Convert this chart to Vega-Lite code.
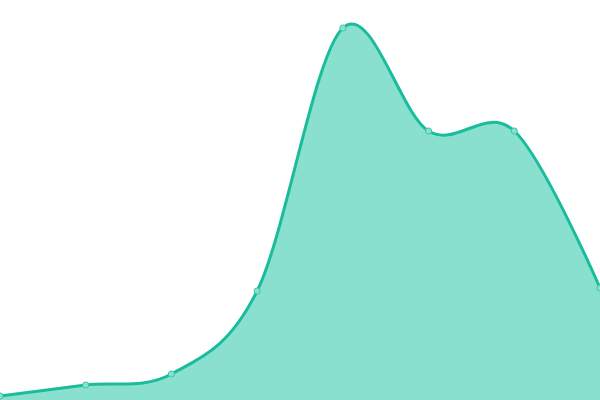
{
  "$schema": "https://vega.github.io/schema/vega-lite/v6.json",
  "width": 600,
  "height": 400,
  "autosize": {"type": "none"},
  "padding": 0,
  "background": "white",
  "config": {"view": {"stroke": null}},
  "data": {"values": [
    {"i": 0, "v": 4},
    {"i": 1, "v": 15},
    {"i": 2, "v": 26},
    {"i": 3, "v": 109},
    {"i": 4, "v": 372},
    {"i": 5, "v": 269},
    {"i": 6, "v": 269},
    {"i": 7, "v": 112}
  ]},
  "encoding": {
    "x": {"field": "i", "type": "quantitative", "scale": {"domain": [0, 7], "nice": false}, "axis": null},
    "y": {"field": "v", "type": "quantitative", "scale": {"domain": [0, 400], "nice": false}, "axis": null}
  },
  "layer": [
    {"mark": {"type": "area", "interpolate": "cardinal", "fill": "#8ae0cf", "opacity": 1}},
    {"mark": {"type": "line", "interpolate": "cardinal", "stroke": "#1abc9c", "strokeWidth": 3}},
    {"mark": {"type": "point", "filled": true, "fill": "#8ae0cf", "stroke": "#3cc7aa", "strokeWidth": 1, "size": 38, "opacity": 1}}
  ]
}
